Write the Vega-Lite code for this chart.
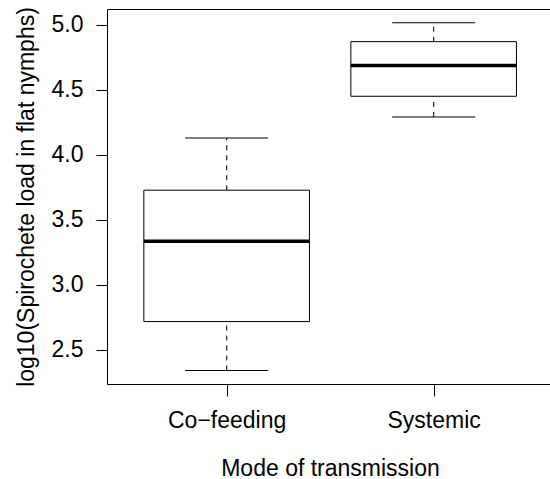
{
  "$schema": "https://vega.github.io/schema/vega-lite/v6.json",
  "width": 443,
  "height": 375,
  "autosize": {"type": "none"},
  "padding": {"left": 107, "top": 9, "right": 0, "bottom": 95},
  "background": "white",
  "config": {
    "view": {"stroke": null},
    "font": "Liberation Sans",
    "axis": {
      "grid": false,
      "domain": true,
      "domainColor": "#000",
      "domainWidth": 1,
      "tickColor": "#000",
      "labelColor": "#000",
      "titleColor": "#000",
      "labelFont": "Liberation Sans",
      "titleFont": "Liberation Sans",
      "labelFontSize": 23,
      "titleFontSize": 23,
      "titleFontWeight": "normal"
    }
  },
  "resolve": {"axis": {"x": "independent"}},
  "data": {
    "values": [
      {"mode": "Co\u2212feeding", "lower": 2.341, "q1": 2.718, "median": 3.336, "q3": 3.728, "upper": 4.13},
      {"mode": "Systemic", "lower": 4.29, "q1": 4.45, "median": 4.687, "q3": 4.87, "upper": 5.015}
    ]
  },
  "layer": [
    {
      "mark": {"type": "rule", "strokeDash": [5, 5], "color": "#222", "strokeWidth": 1.2},
      "encoding": {
        "x": {
          "field": "mode",
          "type": "nominal",
          "sort": null,
          "scale": {"type": "point", "padding": 0.57, "align": 0.507},
          "axis": {
            "orient": "bottom",
            "title": "Mode of transmission",
            "labelAngle": 0,
            "tickSize": 12,
            "labelPadding": 13,
            "titleX": 223,
            "titleY": 91,
            "titleAlign": "center",
            "titleBaseline": "alphabetic",
            "titleAnchor": null
          }
        },
        "y": {
          "field": "lower",
          "type": "quantitative",
          "scale": {"domain": [2.238, 5.121], "nice": false, "zero": false},
          "axis": {
            "title": "log10(Spirochete load in flat nymphs)",
            "values": [2.5, 3, 3.5, 4, 4.5, 5],
            "format": ".1f",
            "tickSize": 11,
            "labelPadding": 13,
            "titleX": -74,
            "titleAngle": -90,
            "titleBaseline": "alphabetic",
            "titleAlign": "center"
          }
        },
        "y2": {"field": "q1"}
      }
    },
    {
      "mark": {"type": "rule", "strokeDash": [5, 5], "color": "#222", "strokeWidth": 1.2},
      "encoding": {
        "x": {
          "field": "mode",
          "type": "nominal",
          "sort": null,
          "axis": {
            "orient": "top",
            "title": null,
            "labels": false,
            "ticks": false,
            "domain": true
          }
        },
        "y": {"field": "q3", "type": "quantitative"},
        "y2": {"field": "upper"}
      }
    },
    {
      "mark": {"type": "tick", "size": 83, "thickness": 1, "color": "#000", "opacity": 1},
      "encoding": {
        "x": {"field": "mode", "type": "nominal", "sort": null, "axis": null},
        "y": {"field": "lower", "type": "quantitative"}
      }
    },
    {
      "mark": {"type": "tick", "size": 83, "thickness": 1, "color": "#000", "opacity": 1},
      "encoding": {
        "x": {"field": "mode", "type": "nominal", "sort": null, "axis": null},
        "y": {"field": "upper", "type": "quantitative"}
      }
    },
    {
      "mark": {"type": "bar", "size": 165.6, "fill": "white", "stroke": "#000", "strokeWidth": 1},
      "encoding": {
        "x": {"field": "mode", "type": "nominal", "sort": null, "axis": null},
        "y": {"field": "q1", "type": "quantitative"},
        "y2": {"field": "q3"}
      }
    },
    {
      "mark": {"type": "tick", "size": 165.6, "thickness": 3.5, "color": "#000", "opacity": 1},
      "encoding": {
        "x": {"field": "mode", "type": "nominal", "sort": null, "axis": null},
        "y": {"field": "median", "type": "quantitative"}
      }
    }
  ]
}
